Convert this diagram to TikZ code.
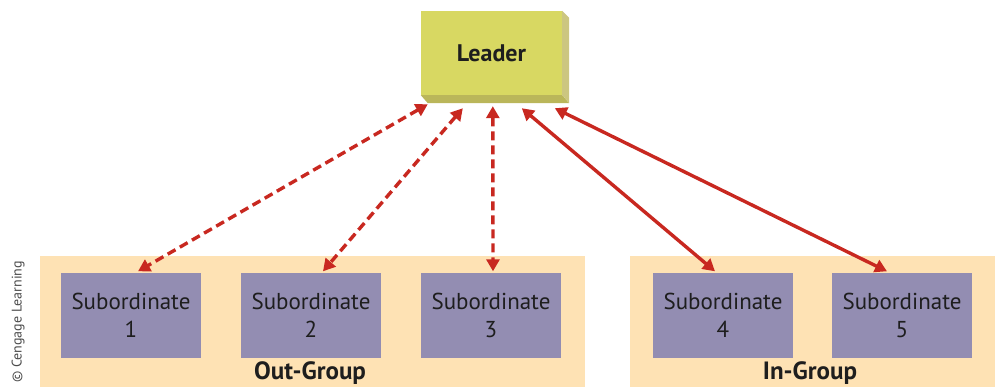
\documentclass[tikz,border=0pt]{standalone}
\usepackage{fontspec}
\setmainfont{PT Sans}
\setsansfont{PT Sans}
\usetikzlibrary{arrows.meta}
\definecolor{ldrfront}{RGB}{216,216,98}
\definecolor{ldrside}{RGB}{204,198,128}
\definecolor{ldrbottom}{RGB}{186,182,90}
\definecolor{grpfill}{RGB}{254,226,180}
\definecolor{subfill}{RGB}{147,141,178}
\definecolor{arrcol}{RGB}{200,40,32}
\definecolor{txtcol}{RGB}{30,30,30}

\begin{document}
\begin{tikzpicture}[
  x=1pt, y=-1pt,
  font=\sffamily,
  leader/.style={                           % leader: yellow block, front face
    fill=ldrfront, draw=none, rectangle,
    minimum width=141pt, minimum height=84pt, inner sep=0pt,
    text=txtcol, font=\sffamily\bfseries\fontsize{24}{26}\selectfont
  },
  group/.style={                            % in/out group: pale orange panel
    fill=grpfill, draw=none, rectangle,
    minimum height=136pt, inner sep=0pt
  },
  sub/.style={                              % subordinate: purple box
    fill=subfill, draw=none, rectangle,
    minimum width=140pt, minimum height=85pt, inner sep=0pt,
    align=center, text=txtcol, font=\sffamily\fontsize{23}{28}\selectfont
  },
  grplabel/.style={
    text=txtcol, font=\sffamily\bfseries\fontsize{25}{27}\selectfont,
    inner sep=0pt
  },
  link/.style={draw=arrcol, line width=3.4pt,
    {Triangle[length=12pt,width=13pt]}-{Triangle[length=12pt,width=13pt]}},
  weak/.style={link, dash pattern=on 9pt off 5pt},
]
\useasboundingbox (0,0) rectangle (998,386);

% ---- Groups ----
\node (outg) at (312.5,324) [group, minimum width=545pt] {};
\node (ing)  at (812.5,324) [group, minimum width=365pt] {};
\node (outl) at (310,373) [grplabel] {Out-Group};
\node (inl)  at (810,373) [grplabel] {In-Group};

% ---- Leader block (front face plus side and bottom) ----
\node (ldr) at (491.5,53) [leader] {Leader};
\fill[ldrside] (ldr.north east) -- ++(7,7) -- ++(0,85) -- (ldr.south east) -- cycle;
\fill[ldrbottom] (ldr.south west) -- ++(7,8) -- ([xshift=7pt,yshift=-8pt]ldr.south east)
  -- (ldr.south east) -- cycle;

% ---- Subordinates ----
\node (s1) at (131,315) [sub] {Subordinate\\1};
\node (s2) at (311,315) [sub] {Subordinate\\2};
\node (s3) at (491,315) [sub] {Subordinate\\3};
\node (s4) at (723,315) [sub] {Subordinate\\4};
\node (s5) at (902,315) [sub] {Subordinate\\5};

% ---- Arrow ends under the leader ----
\coordinate (t1) at ([xshift=7pt,yshift=-9pt]ldr.south west);
\coordinate (t2) at ([xshift=42pt,yshift=-13pt]ldr.south west);
\coordinate (t3) at ([xshift=72pt,yshift=-11pt]ldr.south west);
\coordinate (t4) at ([xshift=101pt,yshift=-13pt]ldr.south west);
\coordinate (t5) at ([xshift=134pt,yshift=-13pt]ldr.south west);

% ---- Links ----
\foreach \t/\s/\dx/\sty in {t1/s1/7/weak, t2/s2/12/weak, t3/s3/2/weak,
                            t4/s4/-8/link, t5/s5/-15/link}
  \draw[\sty] (\t) -- ([xshift=\dx pt,yshift=1pt]\s.north);

% ---- Credit ----
\node (cred) at (18,322) [rotate=90, text=black!70,
  font=\sffamily\fontsize{14}{15}\selectfont, inner sep=0pt] {© Cengage Learning};

\end{tikzpicture}
\end{document}
